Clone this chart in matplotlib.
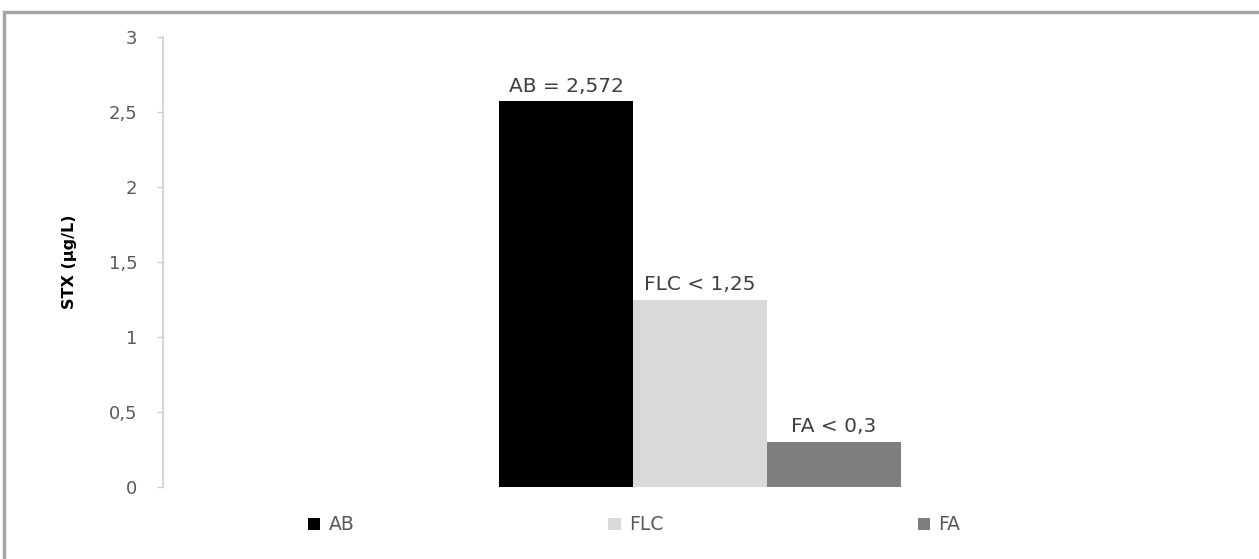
import matplotlib
matplotlib.use("Agg")
import matplotlib.pyplot as plt
from matplotlib.patches import Rectangle

series = ["AB", "FLC", "FA"]
values = [2.572, 1.25, 0.3]
bar_labels = ["AB = 2,572", "FLC < 1,25", "FA < 0,3"]
colors = ["#000000", "#d9d9d9", "#7f7f7f"]
yticks = [0, 0.5, 1, 1.5, 2, 2.5, 3]
ytick_labels = ["0", "0,5", "1", "1,5", "2", "2,5", "3"]

plt.rcParams['font.family'] = ['DejaVu Sans']

W, H = 1259, 559
fig = plt.figure(figsize=(W / 100, H / 100), dpi=100)
ax = fig.add_axes([163 / W, 1 - 487 / H, (1237 - 163) / W, 450 / H])

width = 0.1245
for i, (name, v, c, lab) in enumerate(zip(series, values, colors, bar_labels)):
    x = (i - 1) * width
    ax.bar(x, v, width=width, color=c, label=name, linewidth=0)
    ax.annotate(lab, (x, v), xytext=(0, 4), textcoords="offset points",
                ha="center", va="bottom", fontsize=14.5, color="#404040")

ax.set_xlim(-0.5, 0.5)
ax.set_ylim(0, 3)
ax.set_yticks(yticks)
ax.set_yticklabels(ytick_labels, fontsize=13, color="#595959")
ax.tick_params(axis="y", direction="out", length=4.5, width=1,
               color="#d0d0d0", pad=14)
ax.set_xticks([])
for s in ["top", "right", "bottom"]:
    ax.spines[s].set_visible(False)
ax.spines["left"].set_color("#d0d0d0")
ax.spines["left"].set_linewidth(1.2)
ax.set_ylabel("STX (µg/L)", fontsize=11.5, fontweight="bold", color="#000000",
              labelpad=0)
ax.yaxis.set_label_coords(-86 / (1237 - 163), 0.5)

fig.legend(loc="center", bbox_to_anchor=(634 / W, 1 - 525 / H), ncol=3,
           frameon=False, fontsize=13.5, labelcolor="#595959",
           handlelength=0.65, handleheight=0.65, handletextpad=0.45,
           columnspacing=13.55)

fig.add_artist(Rectangle((4 / W, -0.1), 2, 1 - 12 / H + 0.1,
                         transform=fig.transFigure, fill=False,
                         edgecolor="#a6a6a6", linewidth=2.5))

fig.savefig("out.png", dpi=100)
